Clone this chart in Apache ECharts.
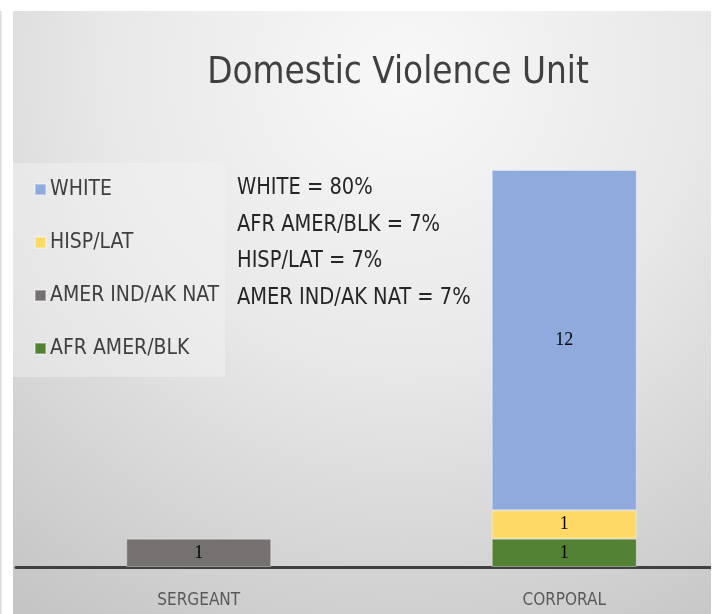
<!DOCTYPE html>
<html>
<head>
<meta charset="utf-8">
<script src="https://cdn.jsdelivr.net/npm/echarts@6/dist/echarts.min.js"></script>
<style>
html,body{margin:0;padding:0;background:#fff;}
#chart{width:720px;height:614px;}
</style>
</head>
<body>
<div id="chart"></div>
<script>
const titleText = 'Domestic Violence Unit';
const categories = ['SERGEANT', 'CORPORAL'];
const legendOrder = ['WHITE', 'HISP/LAT', 'AMER IND/AK NAT', 'AFR AMER/BLK'];
const afrAmerBlk = [null, 1];
const hispLat = [null, 1];
const white = [null, 12];
const amerIndAkNat = [1, null];
const notes = ['WHITE = 80%', 'AFR AMER/BLK = 7%', 'HISP/LAT = 7%', 'AMER IND/AK NAT = 7%'];

const FONT = '"Liberation Sans Narrow", "DejaVu Sans Condensed", "Roboto Condensed", sans-serif';
const chart = echarts.init(document.getElementById('chart'), null, {renderer: 'canvas'});

function barSeries(name, data, color) {
  return {
    name: name,
    type: 'bar',
    stack: 'total',
    data: data,
    barWidth: 145,
    itemStyle: {color: color, borderColor: 'rgba(255,255,255,0.35)', borderWidth: 1},
    label: {
      show: true,
      position: 'inside',
      color: '#000',
      fontSize: 18,
      fontFamily: '"Liberation Serif", "DejaVu Serif", serif',
      formatter: function (p) { return p.value == null ? '' : p.value; }
    }
  };
}

const noteGraphics = notes.map(function (t, i) {
  return {
    type: 'text',
    x: 237,
    y: 177 + i * 36.5,
    scaleX: 0.94,
    z: 10,
    style: {text: t, fill: '#262626', font: '23px ' + FONT}
  };
});

const option = {
  backgroundColor: '#ffffff',
  animation: false,
  title: {
    text: titleText,
    left: 393,
    textAlign: 'center',
    top: 50,
    textStyle: {fontFamily: FONT, fontSize: 36.5, fontWeight: 'normal', color: '#404040'}
  },
  legend: {
    data: legendOrder,
    orient: 'vertical',
    left: 29,
    top: 173,
    icon: 'rect',
    itemWidth: 11,
    itemHeight: 11,
    itemGap: 30,
    selectedMode: false,
    textStyle: {fontFamily: FONT, fontSize: 21, color: '#404040', lineHeight: 23, padding: [0, 0, 0, -1]}
  },
  grid: {left: 16, width: 731, top: 170, bottom: 47, containLabel: false, outerBoundsMode: 'none'},
  xAxis: {
    type: 'category',
    data: categories,
    axisLine: {lineStyle: {color: '#404040', width: 3}},
    axisTick: {show: false},
    axisLabel: {margin: 25, fontFamily: FONT, fontSize: 17, color: '#595959'}
  },
  yAxis: {type: 'value', min: 0, max: 14, show: false, splitLine: {show: false}},
  graphic: [
    {
      type: 'rect', z: -10, silent: true,
      shape: {x: 13, y: 11, width: 698, height: 603},
      style: {fill: new echarts.graphic.RadialGradient(0.56, 0.1, 1.1, [
        {offset: 0, color: '#f8f8f8'},
        {offset: 0.45, color: '#e8e8e8'},
        {offset: 1, color: '#c4c4c4'}
      ])}
    },
    {
      type: 'rect', z: -9, silent: true,
      shape: {x: 13, y: 163, width: 212, height: 214},
      style: {fill: 'rgba(245,245,245,0.45)'}
    },
    {
      type: 'rect', z: 100, silent: true,
      shape: {x: 0, y: 11, width: 1.5, height: 603},
      style: {fill: '#dcdcdc'}
    },
    {
      type: 'rect', z: 100, silent: true,
      shape: {x: 711, y: 0, width: 9, height: 614},
      style: {fill: '#ffffff'}
    }
  ].concat(noteGraphics),
  series: [
    barSeries('AFR AMER/BLK', afrAmerBlk, '#548235'),
    barSeries('HISP/LAT', hispLat, '#ffd966'),
    barSeries('WHITE', white, '#8faadc'),
    barSeries('AMER IND/AK NAT', amerIndAkNat, '#767171')
  ]
};
chart.setOption(option);
</script>
</body>
</html>
